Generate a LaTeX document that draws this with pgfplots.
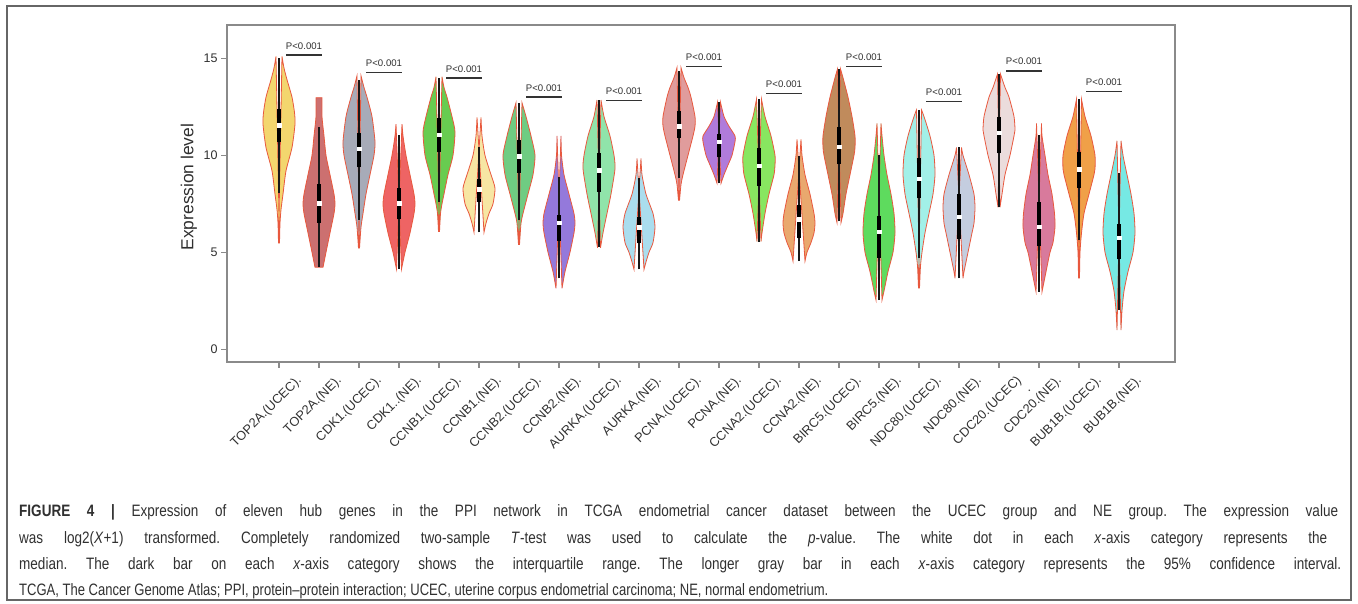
\documentclass[border=0pt]{standalone}
\usepackage{fontspec}
\setmainfont{Liberation Sans}
\newfontfamily\capfont[FakeStretch=0.82]{Liberation Sans}
\newfontfamily\capfontb[FakeStretch=0.79]{Liberation Sans}
\usepackage{pgfplots}
\usepackage{pgfplotstable}
\usepgfplotslibrary{fillbetween}
\pgfplotsset{compat=1.18}
\frenchspacing

\definecolor{vred}{HTML}{E8583E}
\definecolor{axgray}{HTML}{8A8A8A}
\definecolor{txt}{HTML}{303030}
\definecolor{cA}{HTML}{F3D66E}
\definecolor{cB}{HTML}{CC7070}
\definecolor{cC}{HTML}{A7ABB8}
\definecolor{cD}{HTML}{EE6464}
\definecolor{cE}{HTML}{68CC50}
\definecolor{cF}{HTML}{F7E6A3}
\definecolor{cG}{HTML}{6FCC82}
\definecolor{cH}{HTML}{9479DB}
\definecolor{cI}{HTML}{90E4AA}
\definecolor{cJ}{HTML}{AADDEE}
\definecolor{cK}{HTML}{E09C9C}
\definecolor{cL}{HTML}{B07BDB}
\definecolor{cM}{HTML}{88E660}
\definecolor{cN}{HTML}{E9A86E}
\definecolor{cO}{HTML}{C08B5C}
\definecolor{cP}{HTML}{5EDB5E}
\definecolor{cQ}{HTML}{A2F0E8}
\definecolor{cR}{HTML}{C4CDDF}
\definecolor{cS}{HTML}{EBDCDC}
\definecolor{cT}{HTML}{D87A9C}
\definecolor{cU}{HTML}{F0A048}
\definecolor{cV}{HTML}{76E9E4}

% violin profiles: y value, half-width (px; 40 px = 1 x unit)
\pgfplotstableread{
y w
15.1 3
14.5 5
13.9 8
13.0 13
12.2 15.5
11.6 16
10.4 13
9.2 7
8.0 4
7.2 2
6.5 1
5.46 0.5
}\tA
\pgfplotstableread{
y w
12.97 3
12.0 3
11.0 5
10.0 7
9.0 11
8.0 15
7.5 16
7.0 15
6.0 11
5.0 7
4.23 4
}\tB
\pgfplotstableread{
y w
14.1 2
13.5 5
13.0 8
12.0 13
10.7 16
10.0 15
9.0 11
8.0 7
7.0 4
6.3 2
5.2 0.5
}\tC
\pgfplotstableread{
y w
11.61 3
11.0 4
10.0 7
9.0 11
8.0 15
7.5 16
7.0 15
6.0 11
5.0 6
4.14 2.5
}\tD
\pgfplotstableread{
y w
14.05 3
13.5 5
13.0 8
12.0 13
11.2 16
10.0 14
9.0 9
8.0 5
7.5 3
7.0 1.5
6.06 0.5
}\tE
\pgfplotstableread{
y w
11.96 2
11.0 3
10.0 6
9.0 12
8.3 16
7.5 14
7.0 10
6.5 7
6.03 5
}\tF
\pgfplotstableread{
y w
12.71 3
12.0 7
11.0 12
10.0 16
9.0 14
8.0 9
7.0 4
6.5 2
5.38 0.5
}\tG
\pgfplotstableread{
y w
11.0 2
10.0 2.5
9.0 5
8.0 10
7.0 15
6.5 16
6.0 15
5.0 11
4.0 6
3.14 3
}\tH
\pgfplotstableread{
y w
12.85 2
12.0 5
11.0 11
10.0 15
9.3 16
8.0 12
7.0 8
6.0 4
5.23 1.5
}\tI
\pgfplotstableread{
y w
9.84 2
9.0 3
8.0 7
7.0 14
6.3 16
5.5 14
5.0 10
4.5 7
4.12 5
}\tJ
\pgfplotstableread{
y w
14.52 2
14.0 5
13.5 9
13.0 12
12.0 16
11.5 16
11.0 14
10.0 9
9.0 4
8.5 2
7.66 0.5
}\tK
\pgfplotstableread{
y w
12.73 1.5
12.0 5
11.5 10
11.0 16
10.7 16
10.0 13
9.5 9
9.0 5
8.56 2
}\tL
\pgfplotstableread{
y w
12.89 2.5
12.0 6
11.0 12
10.0 16
9.5 16
9.0 15
8.0 10
7.0 6
6.0 3
5.55 2
}\tM
\pgfplotstableread{
y w
10.82 2
10.0 3
9.0 6
8.0 11
7.0 15
6.5 16
6.0 15
5.5 12
5.0 8
4.55 6
}\tN
\pgfplotstableread{
y w
14.45 1.5
14.0 4
13.0 9
12.0 13
11.0 16
10.4 16
10.0 15
9.0 11
8.0 7
7.0 4
6.53 2
}\tO
\pgfplotstableread{
y w
11.65 2
11.0 3
10.0 5
9.0 8
8.0 12
7.0 15
6.0 16
5.0 14
4.0 9
3.0 5
2.54 3
}\tP
\pgfplotstableread{
y w
12.34 2.5
12.0 5
11.0 11
10.0 15
9.0 16
8.0 14
7.0 10
6.0 6
5.0 3
4.3 1.5
3.14 0.5
}\tQ
\pgfplotstableread{
y w
10.41 2.5
10.0 4
9.0 10
8.0 15
7.3 16
6.5 15
6.0 13
5.0 9
4.0 5
3.66 4
}\tR
\pgfplotstableread{
y w
14.19 1.5
13.5 6
13.0 10
12.0 15
11.3 16
11.0 15
10.0 11
9.0 6
8.0 3
7.32 1
}\tS
\pgfplotstableread{
y w
11.65 2.5
11.0 3
10.0 6
9.0 9
8.0 13
7.0 15.5
6.3 16
5.5 14
5.0 11
4.0 7
2.97 3
}\tT
\pgfplotstableread{
y w
12.89 2.5
12.0 6
11.0 12
10.0 16
9.3 16
9.0 15
8.0 10
7.0 5
6.0 2.5
5.0 1
3.66 0.5
}\tU
\pgfplotstableread{
y w
10.75 2
10.0 4
9.0 8
8.0 12
7.0 15
6.0 16
5.0 14
4.0 9
3.0 5
2.0 3
0.99 2
}\tV

% #1 centre, #2 profile, #3 colour, #4 whisker low, #5 whisker high, #6 Q1, #7 Q3, #8 median
\newcommand\violin[8]{%
  \addplot[draw=none, forget plot, name path=L#1, smooth, tension=0.4] table[x expr={#1-\thisrow{w}/40}, y=y]{#2};
  \addplot[draw=none, forget plot, name path=R#1, smooth, tension=0.4] table[x expr={#1+\thisrow{w}/40}, y=y]{#2};
  \addplot[fill=#3, draw=vred, line width=0.8pt, forget plot] fill between[of=L#1 and R#1];
  \addplot[black!90, line width=1.2pt, forget plot] coordinates {(#1,#4) (#1,#5)};
  \addplot[black, line width=4.4pt, forget plot] coordinates {(#1,#6) (#1,#7)};
  \addplot[only marks, mark=square*, mark size=1.7pt, mark options={fill=white, draw=white}, forget plot] coordinates {(#1,#8)};
}
% #1 x start, #2 x end, #3 x middle, #4 y
\newcommand\pval[4]{%
  \addplot[black!80, line width=1.4pt, forget plot] coordinates {(#1,#4) (#2,#4)};
  \node[anchor=base, inner sep=0pt, yshift=6pt, text=txt, font=\fontsize{9.6}{11}\selectfont] at (axis cs:#3,#4) {P<0.001};
}

\begin{document}
\begin{tikzpicture}
\begin{axis}[
  at={(227pt,242pt)}, anchor=south west,
  width=948pt, height=337pt, scale only axis,
  xmin=-1.3, xmax=22.4, ymin=-0.655, ymax=16.72,
  axis line style={axgray, line width=1.3pt},
  tick style={axgray, line width=1.2pt},
  tick align=outside, tick pos=left, major tick length=6pt,
  ytick={0,5,10,15},
  xtick={0,...,21},
  xticklabels={{TOP2A.(UCEC).},{TOP2A.(NE).},{CDK1.(UCEC).},{CDK1..(NE).},{CCNB1.(UCEC).},{CCNB1.(NE).},{CCNB2.(UCEC).},{CCNB2.(NE).},{AURKA.(UCEC).},{AURKA.(NE).},{PCNA.(UCEC).},{PCNA.(NE).},{CCNA2.(UCEC).},{CCNA2.(NE).},{BIRC5.(UCEC).},{BIRC5.(NE).},{NDC80.(UCEC).},{NDC80.(NE).},{CDC20.(UCEC)\\.},{CDC20.(NE).},{BUB1B.(UCEC).},{BUB1B.(NE).}},
  xticklabel style={rotate=45, anchor=north east, align=right, inner sep=1pt, text=txt, font=\fontsize{12.8}{13}\selectfont, xshift=8pt, yshift=-15pt},
  yticklabel style={text=txt, font=\fontsize{12.5}{14}\selectfont},
  /pgf/number format/assume math mode=true,
  ylabel={Expression level},
  ylabel style={at={(axis description cs:-0.0401,0.519)}, anchor=center, text=txt, font=\fontsize{17.4}{20}\selectfont},
  clip=false,
]
\violin{0}{\tA}{cA}{8.04}{15.0}{10.67}{12.39}{11.56}
\violin{1}{\tB}{cB}{4.23}{11.48}{6.53}{8.52}{7.53}
\violin{2}{\tC}{cC}{6.67}{13.9}{9.38}{11.17}{10.33}
\violin{3}{\tD}{cD}{4.14}{11.05}{6.70}{8.30}{7.53}
\violin{4}{\tE}{cE}{7.61}{14.0}{10.15}{11.9}{11.05}
\violin{5}{\tF}{cF}{6.03}{10.44}{7.59}{8.76}{8.26}
\violin{6}{\tG}{cG}{6.67}{12.7}{9.1}{10.79}{9.96}
\violin{7}{\tH}{cH}{3.66}{8.87}{5.6}{6.92}{6.53}
\violin{8}{\tI}{cI}{5.29}{12.85}{8.12}{10.1}{9.24}
\violin{9}{\tJ}{cJ}{4.12}{8.81}{5.46}{6.8}{6.29}
\violin{10}{\tK}{cK}{8.81}{14.35}{10.88}{12.28}{11.51}
\violin{11}{\tL}{cL}{8.56}{12.73}{9.9}{11.08}{10.7}
\violin{12}{\tM}{cM}{5.55}{12.89}{8.43}{10.36}{9.45}
\violin{13}{\tN}{cN}{4.55}{9.96}{5.72}{7.44}{6.7}
\violin{14}{\tO}{cO}{6.6}{14.45}{9.55}{11.48}{10.44}
\violin{15}{\tP}{cP}{2.54}{10.02}{4.72}{6.87}{6.06}
\violin{16}{\tQ}{cQ}{4.69}{12.34}{7.78}{9.84}{8.81}
\violin{17}{\tR}{cR}{3.66}{10.41}{5.67}{8.0}{6.84}
\violin{18}{\tS}{cS}{7.32}{14.19}{10.1}{11.96}{11.17}
\violin{19}{\tT}{cT}{2.97}{11.05}{5.34}{7.61}{6.32}
\violin{20}{\tU}{cU}{5.63}{12.89}{8.33}{10.15}{9.28}
\violin{21}{\tV}{cV}{2.03}{9.07}{4.64}{6.44}{5.75}
\pval{0.18}{1.07}{0.625}{15.17}
\pval{2.18}{3.07}{2.625}{14.28}
\pval{4.18}{5.07}{4.625}{13.98}
\pval{6.18}{7.07}{6.625}{13.0}
\pval{8.18}{9.07}{8.625}{12.82}
\pval{10.18}{11.07}{10.625}{14.57}
\pval{12.18}{13.07}{12.625}{13.18}
\pval{14.18}{15.07}{14.625}{14.57}
\pval{16.18}{17.07}{16.625}{12.76}
\pval{18.18}{19.07}{18.625}{14.35}
\pval{20.18}{21.07}{20.625}{13.28}
\end{axis}
\begin{scope}[font=\capfont, text=txt]
\node[anchor=base west, inner sep=0pt] at (19pt,87pt) {\fontsize{16.5}{20}\selectfont\makebox[1319pt][s]{\textbf{FIGURE 4 |} Expression of eleven hub genes in the PPI network in TCGA endometrial cancer dataset between the UCEC group and NE group. The expression value}};
\node[anchor=base west, inner sep=0pt] at (19pt,60pt) {\fontsize{16.5}{20}\selectfont\makebox[1308pt][s]{was log2(\textit{X}+1) transformed. Completely randomized two-sample \textit{T}-test was used to calculate the \textit{p}-value. The white dot in each \textit{x}-axis category represents the}};
\node[anchor=base west, inner sep=0pt] at (19pt,34pt) {\fontsize{16.5}{20}\selectfont\makebox[1322pt][s]{median. The dark bar on each \textit{x}-axis category shows the interquartile range. The longer gray bar in each \textit{x}-axis category represents the 95\% confidence interval.}};
\node[anchor=base west, inner sep=0pt] at (19pt,8pt) {\capfontb\fontsize{16.5}{20}\selectfont TCGA, The Cancer Genome Atlas; PPI, protein–protein interaction; UCEC, uterine corpus endometrial carcinoma; NE, normal endometrium.};
\end{scope}
\draw[gray!80!black, line width=1.4pt] (7pt,4pt) rectangle (1351pt,598pt);
\path (0,0) rectangle (1358pt,604pt);
\end{tikzpicture}
\end{document}
